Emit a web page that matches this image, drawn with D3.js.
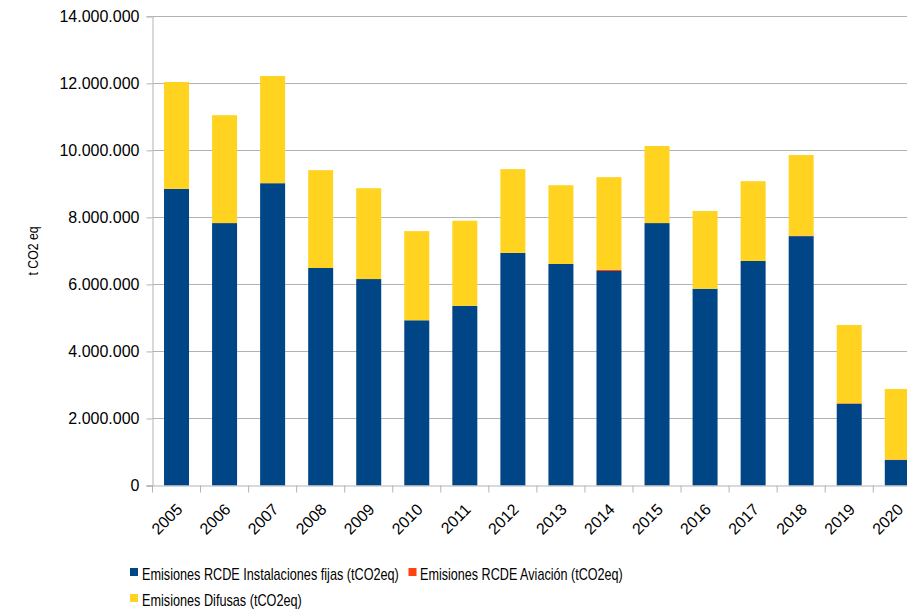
<!DOCTYPE html>
<html><head><meta charset="utf-8">
<script src="https://cdn.jsdelivr.net/npm/d3@7"></script>
<style>body{margin:0;background:#fff}svg{display:block;font-family:"Liberation Sans",Arial,sans-serif}</style>
</head><body><svg id="c" width="907" height="612"></svg>
<script>
const years = ["2005","2006","2007","2008","2009","2010","2011","2012","2013","2014","2015","2016","2017","2018","2019","2020"];
const fijas = [8850000,7830000,9020000,6490000,6160000,4930000,5360000,6940000,6610000,6400000,7830000,5870000,6700000,7440000,2440000,760000];
const aviacion = [0,0,0,0,0,0,0,0,0,40000,0,0,0,15000,15000,15000];
const difusas = [3190000,3220000,3200000,2920000,2710000,2660000,2540000,2500000,2350000,2760000,2300000,2320000,2380000,2405000,2335000,2105000];
const yTicks = [0,2000000,4000000,6000000,8000000,10000000,12000000,14000000];
const seriesNames = ["Emisiones RCDE Instalaciones fijas (tCO2eq)","Emisiones RCDE Aviación (tCO2eq)","Emisiones Difusas (tCO2eq)"];
const colors = ["#004586","#ff420e","#ffd320"];

const svg = d3.select("#c");
const mLeft = 152.5, mTop = 16.3, mBottom = 485.5, bandW = 48.05;
const mRight = mLeft + bandW * years.length;
const x = d3.scaleBand().domain(years).range([mLeft, mRight]).paddingInner(0.48).paddingOuter(0.24);
const y = d3.scaleLinear().domain([0, 14000000]).range([mBottom, mTop]);
const fmt = v => d3.format(",")(v).replace(/,/g, ".");

// gridlines
svg.append("g").selectAll("line").data(yTicks.slice(1)).join("line")
  .attr("x1", mLeft).attr("x2", mRight).attr("y1", d => Math.round(y(d)) + 0.5).attr("y2", d => Math.round(y(d)) + 0.5)
  .attr("stroke", "#b3b3b3").attr("stroke-width", 1);

// stacked bars
const rows = years.map((yr, i) => ({year: yr, s0: fijas[i], s1: aviacion[i], s2: difusas[i]}));
const stack = d3.stack().keys(["s0","s1","s2"])(rows);
svg.append("g").selectAll("g").data(stack).join("g").attr("fill", (d, i) => colors[i])
  .selectAll("rect").data(d => d).join("rect")
  .attr("x", d => x(d.data.year)).attr("width", x.bandwidth())
  .attr("y", d => y(d[1])).attr("height", d => Math.max(0, y(d[0]) - y(d[1])));

// y axis
const yAxis = d3.axisLeft(y).tickValues(yTicks).tickFormat(fmt).tickSize(6).tickPadding(7);
const gy = svg.append("g").attr("transform", `translate(${mLeft},0)`).call(yAxis);
gy.select(".domain").attr("stroke", "#b3b3b3");
gy.selectAll(".tick line").attr("stroke", "#b3b3b3");
gy.selectAll(".tick text").attr("font-size", 16).attr("fill", "#000").attr("font-family", "Liberation Sans, Arial, sans-serif");

// x axis
const xb = d3.scaleLinear().domain([0, years.length]).range([mLeft, mRight]);
const gx = svg.append("g").attr("transform", `translate(0,${mBottom})`);
gx.append("line").attr("x1", mLeft - 6).attr("x2", mRight).attr("y1", 0.5).attr("y2", 0.5).attr("stroke", "#b3b3b3");
gx.selectAll("line.t").data(d3.range(years.length + 1)).join("line").attr("class", "t")
  .attr("x1", d => xb(d)).attr("x2", d => xb(d)).attr("y1", 0).attr("y2", 7).attr("stroke", "#b3b3b3");
gx.selectAll("text").data(years).join("text")
  .attr("transform", d => `translate(${x(d) + x.bandwidth() / 2 - 1},${17}) rotate(-45)`)
  .attr("text-anchor", "end").attr("dy", "0.7em").attr("font-size", 16).text(d => d);

// y axis title (horizontally condensed like the reference)
const yt = svg.append("text").attr("text-anchor", "middle").attr("font-size", 15).text("t CO2 eq");
yt.attr("transform", `translate(38,${(mTop + mBottom) / 2}) rotate(-90) scale(0.82,1)`);

// legend (condensed text)
const legPos = [[130, 568, 142, 580, 257], [408.5, 568, 420, 580, 203], [130, 594, 142, 606, 160]];
const lg = svg.append("g");
seriesNames.forEach((n, i) => {
  const p = legPos[i];
  lg.append("rect").attr("x", p[0]).attr("y", p[1]).attr("width", 8).attr("height", 8).attr("fill", colors[i]);
  const t = lg.append("text").attr("x", 0).attr("y", 0).attr("font-size", 16).text(n);
  const w = t.node().getComputedTextLength();
  t.attr("transform", `translate(${p[2]},${p[3]}) scale(${p[4] / w},1)`);
});
</script></body></html>
